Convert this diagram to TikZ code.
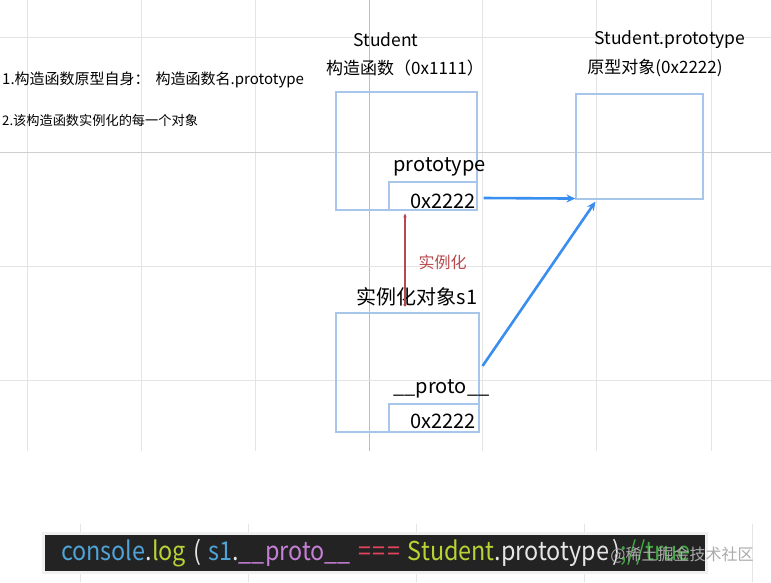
\documentclass[tikz,border=0pt]{standalone}
\usepackage{fontspec}
\setmainfont{Noto Sans CJK SC}
\usepackage{graphicx}
\usetikzlibrary{arrows.meta}
\definecolor{gridc}{HTML}{E4E4E4}
\definecolor{gridd}{HTML}{BDBDBD}
\definecolor{gridm}{HTML}{CFCFCF}
\definecolor{boxc}{HTML}{A8C6EA}
\definecolor{arrowc}{HTML}{3A8EEF}
\definecolor{redc}{HTML}{B9484B}
\definecolor{barc}{HTML}{232323}
\definecolor{cblue}{HTML}{4FA3D6}
\definecolor{cyel}{HTML}{B9D234}
\definecolor{cpur}{HTML}{C67FD6}
\definecolor{cred}{HTML}{E2445E}
\definecolor{cwhite}{HTML}{E6E6E6}
\definecolor{cgreen}{HTML}{43A843}
\definecolor{wmark}{HTML}{ABABAB}
\newcommand{\fs}[1]{\fontsize{#1}{#1}\selectfont}
\newcommand{\csp}{\hspace{8pt}}
\begin{document}
\begin{tikzpicture}[x=1pt,y=-1pt,
  gline/.style={gridc, line width=0.9pt},
  membox/.style={draw=boxc, line width=1.1pt, inner sep=0pt},
  lbl/.style={inner sep=0pt, font=\fs{20}},
  title/.style={inner sep=0pt, font=\fs{17.5}},
  note/.style={inner sep=0pt, anchor=west},
  bluearrow/.style={arrowc, line width=2.6pt, -{Stealth[length=9pt,width=8pt]}},
  redarrow/.style={redc, line width=1.3pt, {Circle[length=3pt]}-{Stealth[length=4pt,width=3.5pt]}}
]
\useasboundingbox (0,0) rectangle (771,582);
\fill[white] (0,0) rectangle (771,582);
% grid
\foreach \gx in {27,141,255,482,596,711} \draw[gline] (\gx,0) -- (\gx,451);
\draw[gridd, line width=0.9pt] (369,0) -- (369,451);
\foreach \gy in {37,266,380} \draw[gline] (0,\gy) -- (771,\gy);
\draw[gridm, line width=0.9pt] (0,152) -- (771,152);
\foreach \gx in {80,248,416,584,752} \draw[gline] (\gx,524) -- (\gx,582);

% notes
\node[note, font=\fs{15}] (n1) at (2,80) {1.构造函数原型自身：\hspace{6pt}构造函数名.prototype};
\node[note, font=\fs{13.2}] (n2) at (2,120) {2.该构造函数实例化的每一个对象};

% titles
\node[title] (t1) at (386,40) {Student};
\node[title, font=\fs{17}] (t2) at (405,68) {构造函数（0x1111）};
\node[title] (t3) at (670,40) {Student.prototype};
\node[title, font=\fs{17}] (t4) at (655,68) {原型对象(0x2222)};

% boxes
\node[membox, minimum width=141pt, minimum height=118pt] (ctor) at (406.5,151) {};
\node[membox, minimum width=88pt, minimum height=28pt] (ctorin) at (433,196) {};
\node[membox, minimum width=127pt, minimum height=105pt] (proto) at (639.5,146.5) {};
\node[membox, minimum width=143pt, minimum height=119pt] (s1) at (407.5,372.5) {};
\node[membox, minimum width=90pt, minimum height=28pt] (s1in) at (434,418) {};

% labels
\node[lbl] (lp) at (439.5,167) {prototype};
\node[lbl, anchor=east] (v1) at (476,201) {0x2222};
\node[lbl] (ls1) at (417,297) {实例化对象s1};
\node[lbl, font=\fs{16}, text=redc] (inst) at (442.5,262) {实例化};
\node[lbl] (lpr) at (441.5,389) {\_\_proto\_\_};
\node[lbl, anchor=east] (v2) at (476,421) {0x2222};

% connectors
\draw[bluearrow] ([shift={(6,2)}]ctorin.east) -- ([shift={(0,-1)}]proto.south west);
\draw[bluearrow] ([shift={(3,-6.5)}]s1.east) -- ([shift={(20,2)}]proto.south west);
\draw[redarrow] ([shift={(-2.5,-6)}]s1.north) -- ([shift={(-28,3)}]ctorin.south);

% code bar
\fill[black!6] (42,532) rectangle (708,574);
\node[fill=barc, minimum width=660pt, minimum height=36pt, inner sep=0pt] (bar) at (375,553) {};
\node[inner sep=0pt, anchor=west] (code) at ([xshift=16pt]bar.west) {\scalebox{0.9}[1]{\fs{26}%
\textcolor{cblue}{console}\textcolor{cwhite}{.}\textcolor{cyel}{log}\csp\textcolor{cwhite}{(}\csp\textcolor{cblue}{s1}\textcolor{cwhite}{.}\textcolor{cpur}{\_\_proto\_\_}\csp\textcolor{cred}{=\hspace{2pt}=\hspace{2pt}=}\csp\textcolor{cyel}{Student}\textcolor{cwhite}{.prototype\hspace{4pt})}\textcolor{cgreen}{;//true}}};
\node[inner sep=0pt, text=wmark, font=\fs{16}] (wm) at (682,555) {@稀土掘金技术社区};
\end{tikzpicture}
\end{document}
